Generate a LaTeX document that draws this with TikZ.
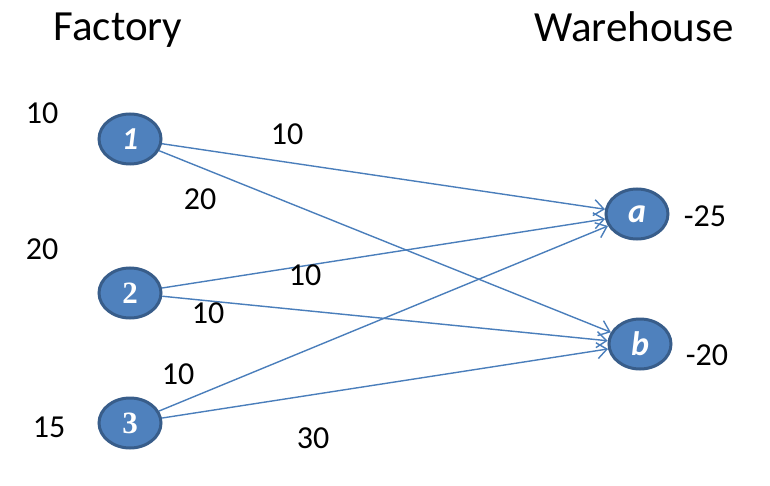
\documentclass[tikz,border=0pt]{standalone}
\usepackage{fontspec}
\setmainfont{Carlito}
\newfontfamily\nodeserif{Liberation Serif}
\usetikzlibrary{shapes.geometric,arrows.meta}
\definecolor{nodeblue}{HTML}{4F81BD}
\definecolor{nodeedge}{HTML}{385D8A}
\definecolor{arcblue}{HTML}{4A7EBB}
\begin{document}
\begin{tikzpicture}[x=1pt,y=-1pt,
    site/.style={ellipse,fill=nodeblue,draw=nodeedge,line width=3pt,
      minimum width=62pt,minimum height=50pt,inner sep=0pt,text=white},
    arc/.style={draw=arcblue,line width=1.4pt,-{Straight Barb[length=10pt,width=16pt]}},
    num/.style={anchor=base,inner sep=0pt,font=\fontsize{32}{36}\selectfont},
    head/.style={anchor=base,inner sep=0pt,font=\fontsize{43}{50}\selectfont}]
      \useasboundingbox (0,0) rectangle (770,486) ;
      % headings
      \node[head] (hf) at (118,41) {Factory} ;
      \node[head] (hw) at (634,42) {Warehouse} ;
      % factories and warehouses
      \node[site,font=\fontsize{32}{34}\selectfont\bfseries\itshape] (f1) at (130,139) {1} ;
      \node[site,font=\fontsize{31}{34}\nodeserif\bfseries] (f2) at (130,293) {2} ;
      \node[site,font=\fontsize{31}{34}\nodeserif\bfseries] (f3) at (130,423) {3} ;
      \node[site,font=\fontsize{34}{34}\selectfont\bfseries\itshape] (wa) at (637,214) {a} ;
      \node[site,font=\fontsize{34}{34}\selectfont\bfseries\itshape] (wb) at (640,344) {b} ;
      % supplies and demands
      \node[num] (s1) at (42,124) {10} ;
      \node[num] (s2) at (42,259) {20} ;
      \node[num] (s3) at (49,437) {15} ;
      \node[num] (da) at (705,226) {-25} ;
      \node[num] (db) at (707,365) {-20} ;
      % arcs
      \draw[arc] (f1) -- (wa) ;
      \draw[arc] (f1) -- (wb) ;
      \draw[arc] (f2) -- (wa) ;
      \draw[arc] (f2) -- (wb) ;
      \draw[arc] (f3) -- (wa) ;
      \draw[arc] (f3) -- (wb) ;
      % arc costs
      \node[num] (c1a) at (287,145) {10} ;
      \node[num] (c1b) at (200,210) {20} ;
      \node[num] (c2a) at (305,285) {10} ;
      \node[num] (c2b) at (208,323) {10} ;
      \node[num] (c3a) at (178,384) {10} ;
      \node[num] (c3b) at (313,448) {30} ;
    \end{tikzpicture}
\end{document}
